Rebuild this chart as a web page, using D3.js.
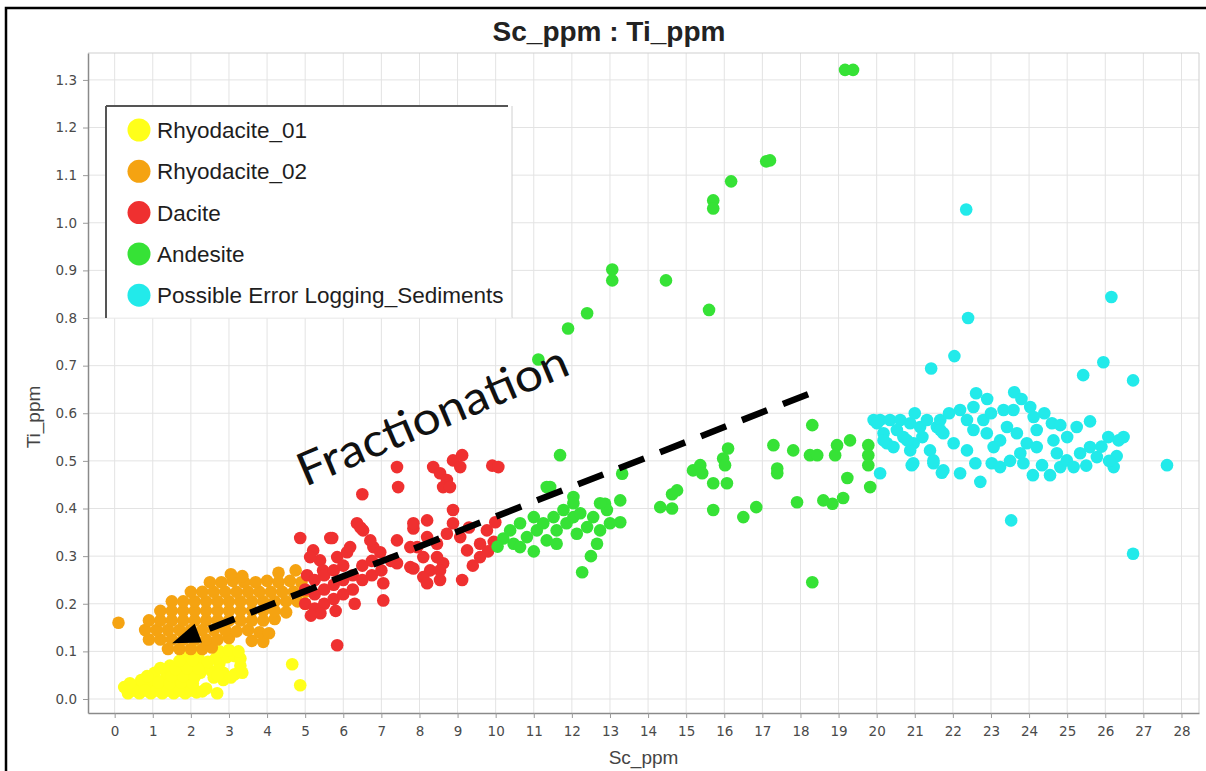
<!DOCTYPE html>
<html>
<head>
<meta charset="utf-8">
<script src="https://cdn.jsdelivr.net/npm/d3@7/dist/d3.min.js"></script>
<style>
  html, body { margin: 0; padding: 0; background: #fff; }
  svg { display: block; }
</style>
</head>
<body>
<svg id="chart" width="1206" height="771"></svg>
<script>
// ---------------- DATA ----------------
const chartTitle = "Sc_ppm : Ti_ppm";
const xLabel = "Sc_ppm";
const yLabel = "Ti_ppm";
const xTicks = d3.range(0, 29);            // 0 .. 28
const yTicks = [0.0,0.1,0.2,0.3,0.4,0.5,0.6,0.7,0.8,0.9,1.0,1.1,1.2,1.3];
const seriesNames = ["Rhyodacite_01", "Rhyodacite_02", "Dacite", "Andesite", "Possible Error Logging_Sediments"];
const seriesColors = ["#ffff1a", "#f5a311", "#ef3030", "#36e236", "#22eaea"];

const rhyodacite01 = [
  [0.35,0.012],[0.65,0.012],[0.95,0.012],[1.25,0.012],[1.55,0.012],[1.85,0.012],[2.15,0.014],[2.69,0.012],
  [0.25,0.025],[0.55,0.027],[0.85,0.025],[1.15,0.027],[1.45,0.025],[1.75,0.027],[2.05,0.025],[2.40,0.022],
  [0.70,0.040],[1.00,0.042],[1.30,0.040],[1.60,0.042],[1.90,0.040],[2.60,0.045],
  [1.05,0.055],[1.35,0.057],[1.65,0.055],[1.95,0.057],[2.25,0.055],[2.55,0.058],[2.85,0.055],[3.15,0.052],
  [1.45,0.070],[1.75,0.072],[2.05,0.070],[2.35,0.072],[2.75,0.075],[3.30,0.070],
  [1.90,0.085],[2.20,0.087],[2.65,0.085],[2.95,0.088],[3.15,0.090],
  [2.10,0.100],[2.75,0.100],[3.00,0.103],
  [0.50,0.018],[0.80,0.018],[1.10,0.018],[1.40,0.018],[1.70,0.018],[2.00,0.018],[2.30,0.016],
  [0.40,0.033],[1.15,0.035],[1.45,0.033],[1.75,0.035],[2.05,0.033],[2.85,0.040],
  [0.85,0.048],[1.50,0.048],[1.80,0.048],[2.10,0.046],[2.70,0.050],[3.05,0.045],[3.35,0.055],
  [1.20,0.065],[1.60,0.063],[1.90,0.065],[2.20,0.064],
  [1.70,0.080],[2.05,0.082],[2.45,0.078],[3.30,0.085],
  [1.95,0.095],[3.25,0.100],
  [4.66,0.073],[4.87,0.029]
];

const rhyodacite02 = [
  [0.10,0.160],
  [1.40,0.105],[1.70,0.105],[2.00,0.105],[2.30,0.105],[2.55,0.108],
  [0.90,0.125],[1.20,0.125],[1.50,0.125],[1.80,0.125],[2.10,0.125],[2.40,0.125],[2.70,0.125],[3.00,0.128],[3.60,0.122],[3.90,0.120],
  [0.80,0.145],[1.10,0.145],[1.40,0.145],[1.70,0.145],[2.00,0.145],[2.30,0.145],[2.60,0.145],[2.90,0.145],[3.20,0.142],[3.50,0.145],[3.80,0.140],[4.05,0.138],
  [0.90,0.165],[1.20,0.165],[1.50,0.165],[1.80,0.165],[2.10,0.165],[2.40,0.165],[2.70,0.165],[3.00,0.165],[3.30,0.165],[3.60,0.165],[3.90,0.165],[4.20,0.168],
  [1.20,0.185],[1.50,0.185],[1.80,0.185],[2.10,0.185],[2.40,0.185],[2.70,0.185],[3.00,0.185],[3.30,0.185],[3.60,0.185],[3.90,0.185],[4.20,0.185],[4.50,0.182],
  [1.50,0.205],[1.80,0.205],[2.10,0.205],[2.40,0.205],[2.70,0.205],[3.00,0.205],[3.30,0.205],[3.60,0.205],[3.90,0.205],[4.20,0.205],[4.50,0.205],[4.80,0.205],[5.00,0.200],
  [2.00,0.225],[2.30,0.225],[2.60,0.225],[2.90,0.225],[3.20,0.225],[3.50,0.225],[3.80,0.225],[4.10,0.225],[4.40,0.225],[4.70,0.225],[5.00,0.225],
  [2.50,0.245],[2.80,0.245],[3.10,0.248],[3.40,0.245],[3.70,0.245],[4.00,0.248],[4.30,0.245],[4.60,0.248],[4.90,0.245],
  [3.05,0.262],[3.35,0.258],[4.30,0.265],[4.75,0.270]
];

const dacite = [
  [4.87,0.338],[5.71,0.338],[5.21,0.312],[5.39,0.291],[5.84,0.298],[6.10,0.308],[6.36,0.369],[6.52,0.354],
  [6.50,0.430],[7.41,0.487],[7.44,0.445],[6.79,0.319],[6.97,0.308],[7.41,0.333],[7.41,0.285],[7.84,0.358],
  [8.20,0.375],[7.94,0.319],[8.10,0.298],[7.84,0.274],[8.28,0.270],[8.46,0.326],[8.72,0.347],[8.88,0.369],
  [9.07,0.340],[9.25,0.312],[9.59,0.326],[9.77,0.354],[9.59,0.298],[9.12,0.250],[8.62,0.285],[8.36,0.487],
  [8.54,0.474],[8.72,0.460],[8.62,0.445],[8.88,0.501],[9.12,0.512],[9.07,0.487],[8.80,0.445],[9.91,0.490],
  [10.07,0.487],[9.99,0.371],[8.88,0.397],[8.20,0.340],[5.47,0.270],[5.13,0.298],[6.18,0.319],[6.71,0.333],
  [7.05,0.243],[7.05,0.207],[7.76,0.277],[8.10,0.256],[8.20,0.243],[8.54,0.270],[5.84,0.113],[6.45,0.360],
  [5.00,0.200],[5.00,0.230],[5.05,0.260],[5.25,0.190],[5.25,0.220],[5.25,0.250],[5.50,0.200],[5.50,0.230],
  [5.50,0.260],[5.75,0.210],[5.75,0.240],[5.75,0.270],[6.00,0.220],[6.00,0.250],[6.00,0.280],[6.25,0.230],
  [6.25,0.260],[6.50,0.250],[6.50,0.280],[6.75,0.260],[6.75,0.290],[7.00,0.270],[7.25,0.290],[5.40,0.180],
  [5.15,0.175],[6.30,0.200],[5.80,0.185],[8.46,0.298],[8.54,0.250],[9.30,0.360],[9.40,0.280],[9.80,0.310],
  [9.95,0.330],[7.76,0.319],[7.84,0.369],[5.66,0.338]
];

const andesite = [
  [19.17,1.321],[19.38,1.321],[17.10,1.129],[17.20,1.131],[16.18,1.087],[15.71,1.047],[15.71,1.030],[14.47,0.879],
  [13.06,0.902],[13.06,0.879],[15.60,0.817],[12.40,0.810],[11.90,0.778],[11.12,0.713],
  [11.69,0.512],[11.43,0.445],[13.32,0.473],[13.27,0.417],[13.27,0.371],[14.32,0.403],[14.63,0.430],[12.87,0.410],
  [12.04,0.424],[12.27,0.266],
  [18.31,0.575],[17.29,0.533],[17.81,0.522],[18.25,0.512],[18.44,0.512],[18.96,0.533],[19.30,0.543],[18.91,0.512],
  [19.78,0.533],[19.78,0.512],[19.78,0.491],[19.23,0.464],[19.83,0.445],[19.12,0.422],[18.60,0.417],[18.84,0.410],
  [17.91,0.413],[17.39,0.484],[17.39,0.474],[16.10,0.526],[15.97,0.505],[16.02,0.491],[15.18,0.480],[15.37,0.491],
  [15.42,0.474],[15.71,0.453],[16.07,0.453],[14.76,0.438],[14.63,0.400],[15.71,0.397],[16.50,0.382],[16.84,0.403],
  [18.31,0.245],
  [10.20,0.337],[10.38,0.354],[10.47,0.326],[10.64,0.369],[10.82,0.340],[11.00,0.382],[11.08,0.354],[11.25,0.369],
  [11.34,0.333],[11.52,0.382],[11.60,0.354],[11.78,0.397],[11.86,0.369],[12.04,0.382],[12.13,0.347],[12.22,0.390],
  [12.40,0.361],[12.56,0.382],[12.66,0.326],[12.74,0.354],[12.92,0.397],[13.00,0.369],[11.60,0.326],[10.64,0.319],
  [12.04,0.411],[12.74,0.411],[12.50,0.300],[10.05,0.320],[11.00,0.310],[11.34,0.445]
];

const sediments = [
  [22.35,1.028],[26.16,0.844],[22.40,0.800],[22.04,0.720],[21.43,0.694],[25.95,0.707],[25.42,0.680],[26.73,0.669],
  [27.62,0.491],[23.53,0.375],[26.73,0.305],[22.61,0.642],[23.61,0.644],
  [20.09,0.586],[20.35,0.586],[20.18,0.558],[20.27,0.537],[20.62,0.586],[20.70,0.550],[20.88,0.579],[20.97,0.537],
  [21.14,0.571],[21.32,0.586],[21.40,0.522],[21.58,0.571],[21.75,0.558],[21.67,0.586],[20.92,0.491],[21.49,0.495],
  [21.71,0.475],[22.19,0.607],[22.19,0.474],[22.37,0.586],[22.37,0.522],[22.54,0.613],[22.54,0.565],[22.59,0.495],
  [22.72,0.456],[22.80,0.586],[22.89,0.558],[23.07,0.529],[23.02,0.495],[23.24,0.487],[23.33,0.607],[23.42,0.571],
  [23.59,0.607],[23.68,0.558],[23.77,0.516],[23.85,0.495],[23.94,0.537],[24.03,0.613],[24.12,0.592],[24.20,0.565],
  [24.20,0.529],[24.34,0.491],[24.55,0.470],[24.60,0.579],[24.64,0.543],[24.73,0.516],[24.82,0.487],[24.99,0.501],
  [25.17,0.487],[25.25,0.571],[25.34,0.516],[25.60,0.583],[25.60,0.529],[25.78,0.508],[26.08,0.550],[26.22,0.487],
  [26.35,0.543],[26.48,0.550],[20.09,0.474],[19.92,0.586],[22.02,0.537],[23.24,0.543],[24.82,0.575],[20.88,0.522],
  [20.44,0.529],[20.01,0.579],[20.18,0.543],[20.53,0.565],[20.80,0.543],[20.96,0.495],[21.49,0.501],[21.67,0.565],
  [21.75,0.480],[21.00,0.600],[21.90,0.600],[23.00,0.600],[23.50,0.500],[24.40,0.600],[25.00,0.550],[25.90,0.530],
  [26.30,0.510],[26.10,0.500],[25.50,0.490],[24.10,0.470],[22.90,0.630],[23.80,0.630],[21.20,0.550]
];

// annotation (in data units)
const arrowStart = [18.2, 0.640];
const arrowTip = [1.51, 0.117];
const annotationText = "Fractionation";
const annotationAnchor = [5.0, 0.445];

// ---------------- CHART ----------------
const svg = d3.select("#chart");
const W = 1206, H = 771;
const plot = { left: 88, right: 1199, top: 53, bottom: 713 };

svg.append("rect").attr("x", 0).attr("y", 0).attr("width", W).attr("height", H).attr("fill", "#fff");

const x = d3.scaleLinear().domain([-0.7, 28.46]).range([plot.left, plot.right]);
const y = d3.scaleLinear().domain([-0.0294, 1.3565]).range([plot.bottom, plot.top]);

// grid
const grid = svg.append("g");
grid.selectAll("line.vx").data(xTicks).join("line")
  .attr("x1", d => x(d)).attr("x2", d => x(d))
  .attr("y1", plot.top).attr("y2", plot.bottom)
  .attr("stroke", "#e3e3e3").attr("stroke-width", 1);
grid.selectAll("line.hy").data(yTicks).join("line")
  .attr("y1", d => y(d)).attr("y2", d => y(d))
  .attr("x1", plot.left).attr("x2", plot.right)
  .attr("stroke", "#e3e3e3").attr("stroke-width", 1);

// plot border (top/right light)
svg.append("line").attr("x1", plot.left).attr("x2", plot.right).attr("y1", plot.top).attr("y2", plot.top)
  .attr("stroke", "#cfcfcf");
svg.append("line").attr("x1", plot.right).attr("x2", plot.right).attr("y1", plot.top).attr("y2", plot.bottom)
  .attr("stroke", "#cfcfcf");

// axes
const axisFont = "'DejaVu Sans', sans-serif";
const gx = svg.append("g").attr("transform", `translate(0,${plot.bottom})`)
  .call(d3.axisBottom(x).tickValues(xTicks).tickFormat(d3.format("d")).tickSize(5).tickSizeOuter(0).tickPadding(8));
const gy = svg.append("g").attr("transform", `translate(${plot.left},0)`)
  .call(d3.axisLeft(y).tickValues(yTicks).tickFormat(d3.format(".1f")).tickSize(5).tickSizeOuter(0).tickPadding(6));
[gx, gy].forEach(g => {
  g.select(".domain").attr("stroke", "#8a8a8a").attr("stroke-width", 1.5);
  g.selectAll(".tick line").attr("stroke", "#9a9a9a");
  g.selectAll(".tick text").attr("fill", "#4a4a4a").style("font-family", axisFont).style("font-size", "13.5px");
});

// series
const allSeries = [rhyodacite01, rhyodacite02, dacite, andesite, sediments];
const pts = svg.append("g");
allSeries.forEach((data, i) => {
  pts.append("g").selectAll("circle").data(data).join("circle")
    .attr("cx", d => x(d[0])).attr("cy", d => y(d[1])).attr("r", 6.3)
    .attr("fill", seriesColors[i]);
});

// legend
const lg = svg.append("g");
const lgX = 106, lgY = 106, lgW = 406, lgH = 212;
lg.append("rect").attr("x", lgX).attr("y", lgY).attr("width", lgW).attr("height", lgH).attr("fill", "#fff");
lg.append("line").attr("x1", lgX + lgW).attr("x2", lgX + lgW).attr("y1", lgY).attr("y2", lgY + lgH).attr("stroke", "#d0d0d0");
lg.append("line").attr("x1", lgX).attr("x2", lgX + lgW).attr("y1", lgY + lgH).attr("y2", lgY + lgH).attr("stroke", "#eeeeee");
lg.append("line").attr("x1", lgX).attr("x2", lgX + lgW - 4).attr("y1", lgY).attr("y2", lgY).attr("stroke", "#555").attr("stroke-width", 2);
lg.append("line").attr("x1", lgX).attr("x2", lgX).attr("y1", lgY).attr("y2", lgY + lgH).attr("stroke", "#555").attr("stroke-width", 2);
const items = lg.selectAll("g.item").data(seriesNames).join("g")
  .attr("transform", (d, i) => `translate(${lgX + 33},${lgY + 24 + i * 41.3})`);
items.append("circle").attr("r", 11.5).attr("fill", (d, i) => seriesColors[i]);
items.append("text").text(d => d).attr("x", 18).attr("y", 8)
  .style("font-family", "'Liberation Sans', Arial, sans-serif").style("font-size", "22.5px").attr("fill", "#1e1e1e");

// dashed arrow
const p0 = [x(arrowStart[0]), y(arrowStart[1])];
const p1 = [x(arrowTip[0]), y(arrowTip[1])];
const len = Math.hypot(p1[0] - p0[0], p1[1] - p0[1]);
const u = [(p1[0] - p0[0]) / len, (p1[1] - p0[1]) / len];
const n = [-u[1], u[0]];
const headL = 28, headW = 10;
const base = [p1[0] - u[0] * headL, p1[1] - u[1] * headL];
svg.append("path")
  .attr("d", d3.line()([p0, [base[0] + u[0] * 4, base[1] + u[1] * 4]]))
  .attr("stroke", "#000").attr("stroke-width", 6.5).attr("fill", "none")
  .attr("stroke-dasharray", "27,17");
svg.append("path")
  .attr("d", d3.line()([p1, [base[0] + n[0] * headW, base[1] + n[1] * headW], [base[0] - n[0] * headW, base[1] - n[1] * headW]]) + "Z")
  .attr("fill", "#000");

// annotation text
svg.append("text")
  .attr("transform", `translate(${x(annotationAnchor[0])},${y(annotationAnchor[1])}) rotate(-23)`)
  .attr("textLength", 290).attr("lengthAdjust", "spacingAndGlyphs")
  .style("font-family", "Lato, 'Open Sans', sans-serif").style("font-size", "46px")
  .attr("fill", "#111").text(annotationText);

// titles
svg.append("text").attr("x", 609).attr("y", 41).attr("text-anchor", "middle")
  .style("font-family", "'Liberation Sans', Arial, sans-serif").style("font-size", "28px").style("font-weight", "bold")
  .attr("fill", "#222").text(chartTitle);
svg.append("text").attr("x", (plot.left + plot.right) / 2).attr("y", 764).attr("text-anchor", "middle")
  .style("font-family", "'Liberation Sans', Arial, sans-serif").style("font-size", "19px")
  .attr("fill", "#444").text(xLabel);
svg.append("text").attr("transform", "translate(40,417) rotate(-90)").attr("text-anchor", "middle")
  .style("font-family", "'Liberation Sans', Arial, sans-serif").style("font-size", "19px")
  .attr("fill", "#444").text(yLabel);

// outer frame
svg.append("rect").attr("x", 6).attr("y", 8).attr("width", W + 10).attr("height", H + 10)
  .attr("fill", "none").attr("stroke", "#000").attr("stroke-width", 2.5);
</script>
</body>
</html>
